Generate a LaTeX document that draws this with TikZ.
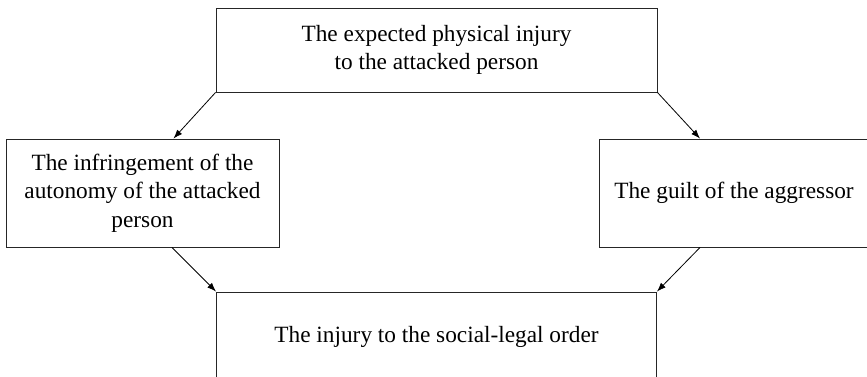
\documentclass[tikz,border=0pt]{standalone}
\usepackage{fontspec}
\setmainfont{Liberation Serif}
\usetikzlibrary{arrows.meta}
\tikzset{
  box/.style={draw=black!85, line width=0.9pt, align=center, inner sep=2pt,
    font=\fontsize{23.3}{28.5}\selectfont},
  arr/.style={draw=black, line width=0.8pt, -{Latex[length=9pt,width=6.5pt]}}
}
\begin{document}
\begin{tikzpicture}[x=1pt,y=-1pt]
\useasboundingbox (0,0) rectangle (867,376);
\clip (0,0) rectangle (867,376);
\node[box, minimum width=441pt, minimum height=84pt] (top) at (436.5,50)
  {The expected physical injury\\to the attacked person};
\node[box, minimum width=273pt, minimum height=108pt] (left) at (142.5,193)
  {The infringement of the\\autonomy of the attacked\\person};
\node[box, minimum width=270pt, minimum height=108pt] (right) at (734,193)
  {The guilt of the aggressor};
\node[box, minimum width=440pt, minimum height=90pt] (bottom) at (436.5,337)
  {The injury to the social-legal order};
\draw[arr] (top.south west) -- ([xshift=31pt]left.north);
\draw[arr] (top.south east) -- ([xshift=-34pt]right.north);
\draw[arr] ([xshift=29.5pt]left.south) -- (bottom.north west);
\draw[arr] ([xshift=-34pt]right.south) -- (bottom.north east);
\end{tikzpicture}
\end{document}
